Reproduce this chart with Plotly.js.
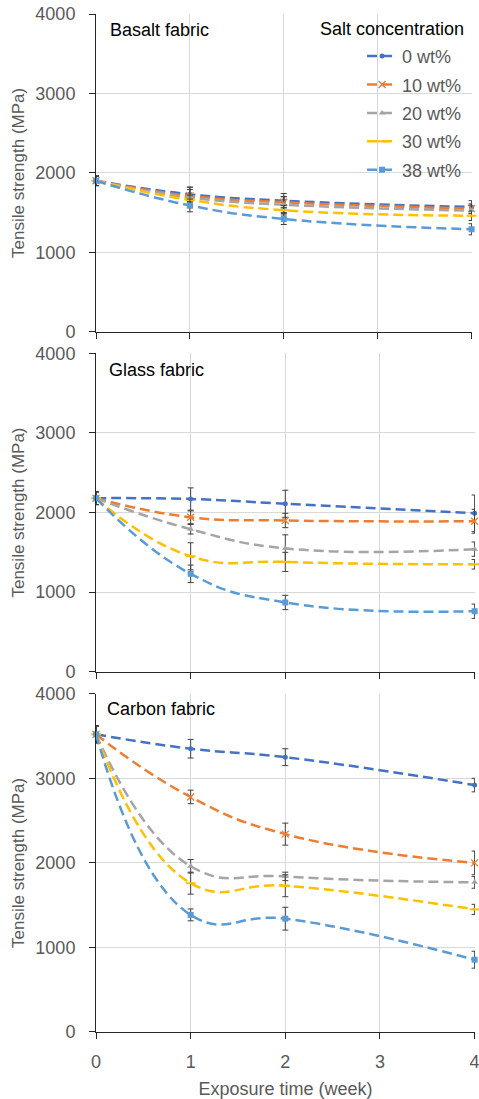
<!DOCTYPE html>
<html><head><meta charset="utf-8">
<script src="https://cdn.plot.ly/plotly-3.0.1.min.js"></script>
<style>html,body{margin:0;padding:0;background:#fff;}</style>
</head><body><div id="chart" style="width:479px;height:1099px;"></div>
<script>
// ---- data ----
const weeks = [0, 1, 2, 4];
const xTickVals = [0, 1, 2, 3, 4];
const xTickText = ['0', '1', '2', '3', '4'];
const yTickVals = [0, 1000, 2000, 3000, 4000];
const yTickText = ['0', '1000', '2000', '3000', '4000'];
const seriesNames = ['0 wt%', '10 wt%', '20 wt%', '30 wt%', '38 wt%'];
const panelNames = ['Basalt fabric', 'Glass fabric', 'Carbon fabric'];
const legendTitle = 'Salt concentration';
const xTitle = 'Exposure time (week)';
const yTitle = 'Tensile strength (MPa)';

// Basalt fabric
const basalt0  = [1900, 1730, 1650, 1570];
const basalt10 = [1900, 1710, 1630, 1550];
const basalt20 = [1900, 1690, 1600, 1525];
const basalt30 = [1900, 1660, 1530, 1460];
const basalt38 = [1900, 1590, 1420, 1290];
const basalt0Err  = [60, 90, 90, 80];
const basalt10Err = [60, 80, 70, 60];
const basalt20Err = [60, 130, 100, 70];
const basalt30Err = [60, 60, 60, 60];
const basalt38Err = [60, 80, 70, 70];

// Glass fabric
const glass0  = [2180, 2170, 2110, 1990];
const glass10 = [2180, 1940, 1900, 1890];
const glass20 = [2180, 1790, 1550, 1540];
const glass30 = [2180, 1450, 1380, 1350];
const glass38 = [2180, 1230, 870, 760];
const glass0Err  = [80, 140, 170, 230];
const glass10Err = [80, 80, 90, 150];
const glass20Err = [80, 60, 170, 90];
const glass30Err = [80, 170, 120, 60];
const glass38Err = [80, 110, 90, 90];

// Carbon fabric
const carbon0  = [3520, 3350, 3250, 2920];
const carbon10 = [3520, 2780, 2340, 2000];
const carbon20 = [3520, 1960, 1840, 1770];
const carbon30 = [3520, 1760, 1730, 1450];
const carbon38 = [3520, 1385, 1340, 855];
const carbon0Err  = [100, 110, 100, 80];
const carbon10Err = [100, 80, 130, 140];
const carbon20Err = [100, 80, 50, 70];
const carbon30Err = [100, 130, 130, 60];
const carbon38Err = [100, 70, 135, 100];

// ---- styles ----
const colors = ['#4472C4', '#ED7D31', '#A5A5A5', '#FFC000', '#5B9BD5'];
const markers = [
  {symbol: 'circle', size: 5},
  {symbol: 'x-thin', size: 7, line: {width: 1.3}},
  {symbol: 'triangle-up', size: 6},
  {symbol: 'line-ew', size: 7, line: {width: 2}},
  {symbol: 'square', size: 6}
];
const FONT = 'Liberation Sans, Arial, sans-serif';
const GRAY = '#595959';

const panels = [
  {vals: [basalt0, basalt10, basalt20, basalt30, basalt38],
   errs: [basalt0Err, basalt10Err, basalt20Err, basalt30Err, basalt38Err], xa: 'x', ya: 'y'},
  {vals: [glass0, glass10, glass20, glass30, glass38],
   errs: [glass0Err, glass10Err, glass20Err, glass30Err, glass38Err], xa: 'x2', ya: 'y2'},
  {vals: [carbon0, carbon10, carbon20, carbon30, carbon38],
   errs: [carbon0Err, carbon10Err, carbon20Err, carbon30Err, carbon38Err], xa: 'x3', ya: 'y3'}
];

const traces = [];
panels.forEach((p, pi) => {
  p.vals.forEach((v, si) => {
    const m = Object.assign({color: colors[si]}, markers[si]);
    if (m.line) m.line = Object.assign({color: colors[si]}, m.line);
    traces.push({
      type: 'scatter', mode: 'lines+markers',
      x: weeks, y: v, xaxis: p.xa, yaxis: p.ya,
      name: seriesNames[si], legendgroup: 'g' + si,
      showlegend: pi === 0,
      line: {color: colors[si], width: 2.5, dash: '10px,5px', shape: 'spline', smoothing: 1.3},
      marker: m,
      error_y: {type: 'data', array: p.errs[si], visible: true, color: '#404040', thickness: 1, width: 3},
      cliponaxis: false
    });
  });
});

function xAxis(domainRight, showLabels, withTitle) {
  const a = {
    domain: [0, domainRight], range: [0, 4.004], tickmode: 'array', tickvals: xTickVals, ticktext: xTickText,
    showline: true, linecolor: '#262626', linewidth: 1,
    ticks: 'outside', ticklen: 6, tickcolor: '#262626', tickwidth: 1,
    showgrid: true, gridcolor: '#D9D9D9', gridwidth: 1, zeroline: false,
    showticklabels: showLabels, ticklabelstandoff: 7, ticklabeloverflow: 'allow',
    tickfont: {family: FONT, size: 18, color: GRAY}, automargin: false
  };
  if (withTitle) a.title = {text: xTitle, font: {family: FONT, size: 18, color: GRAY}, standoff: 11};
  return a;
}
function yAxis(domain, anchor) {
  return {
    domain: domain, anchor: anchor, range: [0, 4000.5], tickmode: 'array', tickvals: yTickVals, ticktext: yTickText,
    showline: true, linecolor: '#262626', linewidth: 1,
    ticks: 'outside', ticklen: 6, tickcolor: '#262626', tickwidth: 1,
    showgrid: true, gridcolor: '#D9D9D9', gridwidth: 1, zeroline: false,
    ticklabelstandoff: 10,
    tickfont: {family: FONT, size: 18, color: GRAY}, automargin: false,
    title: {text: yTitle, font: {family: FONT, size: 17, color: GRAY}, standoff: 6}
  };
}

const layout = {
  width: 479, height: 1099,
  margin: {l: 96, r: 4, t: 14, b: 67},
  paper_bgcolor: '#fff', plot_bgcolor: '#fff',
  font: {family: FONT, color: GRAY},
  showlegend: true,
  xaxis: Object.assign(xAxis(0.992, false, false), {anchor: 'y'}),
  yaxis: yAxis([0.6879, 1], 'x'),
  xaxis2: Object.assign(xAxis(1, false, false), {anchor: 'y2'}),
  yaxis2: yAxis([0.3539, 0.6667], 'x2'),
  xaxis3: Object.assign(xAxis(1, true, true), {anchor: 'y3'}),
  yaxis3: yAxis([0, 0.3323], 'x3'),
  legend: {
    x: 0.702, xanchor: 'left', y: 0.9765, yanchor: 'top',
    font: {family: FONT, size: 18, color: GRAY},
    bgcolor: 'rgba(0,0,0,0)', borderwidth: 0, itemwidth: 30, tracegroupgap: 2,
    traceorder: 'grouped'
  },
  annotations: [
    {text: legendTitle, xref: 'paper', yref: 'paper', x: 0.976, y: 0.985, xanchor: 'right', yanchor: 'middle',
     showarrow: false, font: {family: FONT, size: 18, color: '#000'}},
    {text: panelNames[0], xref: 'paper', yref: 'paper', x: 0.0317, y: 0.984, xanchor: 'left', yanchor: 'middle',
     showarrow: false, font: {family: FONT, size: 18, color: '#000'}},
    {text: panelNames[1], xref: 'paper', yref: 'paper', x: 0.029, y: 0.6503, xanchor: 'left', yanchor: 'middle',
     showarrow: false, font: {family: FONT, size: 18, color: '#000'}},
    {text: panelNames[2], xref: 'paper', yref: 'paper', x: 0.0237, y: 0.3173, xanchor: 'left', yanchor: 'middle',
     showarrow: false, font: {family: FONT, size: 18, color: '#000'}}
  ]
};

Plotly.newPlot('chart', traces, layout, {staticPlot: true, displayModeBar: false});
</script>
</body></html>
